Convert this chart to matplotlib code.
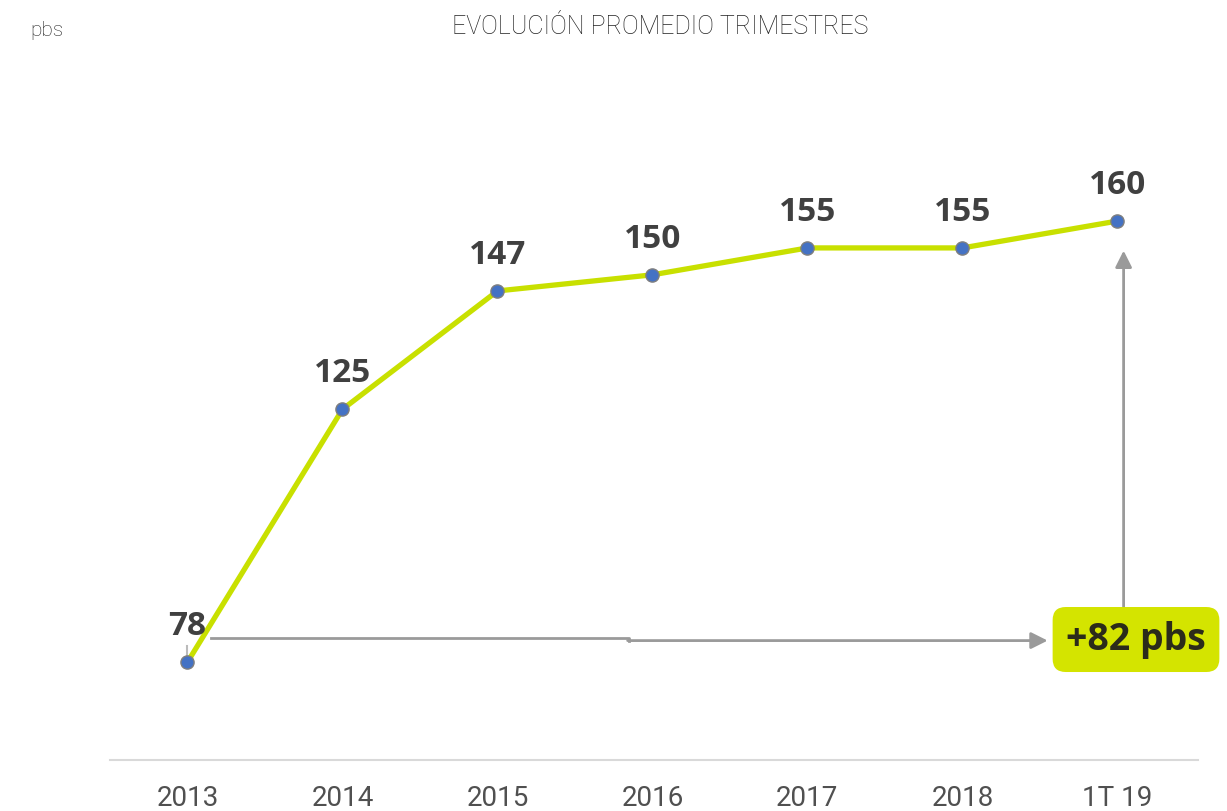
import matplotlib
matplotlib.use('Agg')
import matplotlib.pyplot as plt

# datos
categorias = ['2013', '2014', '2015', '2016', '2017', '2018', '1T 19']
valores = [78, 125, 147, 150, 155, 155, 160]
etiqueta_dif = '+82 pbs'
titulo = 'EVOLUCIÓN PROMEDIO TRIMESTRES'
unidad = 'pbs'

verde = '#c8e000'
gris = '#9a9a9a'
fuente_fina = ['Roboto', 'DejaVu Sans']
fuente_bold = ['Open Sans', 'DejaVu Sans']

fig = plt.figure(figsize=(12.27, 8.11), dpi=100)
ax = fig.add_axes([110/1227, 51/811, 1088/1227, 660/811])

x = list(range(len(categorias)))
ax.plot(x, valores, color=verde, lw=3.8, zorder=3, solid_capstyle='round')
ax.plot(x, valores, 'o', ms=9.5, mfc='#4472c4', mec='#7f7f7f', mew=1, zorder=4)

for xi, v in zip(x, valores):
    ax.text(xi, v + 6.6, str(v), ha='center', va='center', fontsize=24,
            fontweight='bold', color='#404040', family=fuente_bold, zorder=5)

# pequeña marca sobre el primer punto
ax.plot([0, 0], [valores[0], valores[0] + 3], color='#bbbbbb', lw=1.5, zorder=2)

# flecha horizontal
y_h = valores[0] + 4.5
ax.plot([0.15, 2.85, 2.85], [y_h, y_h, y_h - 0.5], color=gris, lw=2, zorder=2)
ax.annotate('', xy=(5.55, y_h - 0.5), xytext=(2.84, y_h - 0.5),
            arrowprops=dict(arrowstyle='-|>', mutation_scale=25, color=gris, lw=2,
                            shrinkA=0, shrinkB=0), zorder=2)

# flecha vertical
ax.annotate('', xy=(6.04, valores[-1] - 5.5), xytext=(6.04, y_h + 5),
            arrowprops=dict(arrowstyle='-|>', mutation_scale=25, color=gris, lw=2,
                            shrinkA=0, shrinkB=0), zorder=2)

ax.text(6.12, y_h - 0.3, etiqueta_dif, ha='center', va='center', fontsize=27,
        fontweight='bold', color='#2b2b1a', family=fuente_bold, zorder=6,
        bbox=dict(boxstyle='round,pad=0.36,rounding_size=0.35', fc='#d4e400', ec='none'))

ax.set_xlim(-0.5, 6.52)
ax.set_ylim(59.8, 182.5)
ax.set_yticks([])
ax.set_xticks(x)
ax.set_xticklabels(categorias, fontsize=20, color='#505050', family=fuente_fina)
ax.tick_params(axis='x', length=0, pad=18)
for s in ['top', 'right', 'left']:
    ax.spines[s].set_visible(False)
ax.spines['bottom'].set_color('#d9d9d9')
ax.spines['bottom'].set_linewidth(1.5)

fig.text(660/1227, 1 - 27/811, titulo, ha='center', va='center', fontsize=18,
         color='#222222', family=fuente_fina, fontweight='light')
fig.text(30/1227, 1 - 30/811, unidad, ha='left', va='center', fontsize=15,
         color='#222222', family=fuente_fina, fontweight='light')

fig.savefig('out.png', dpi=100)
